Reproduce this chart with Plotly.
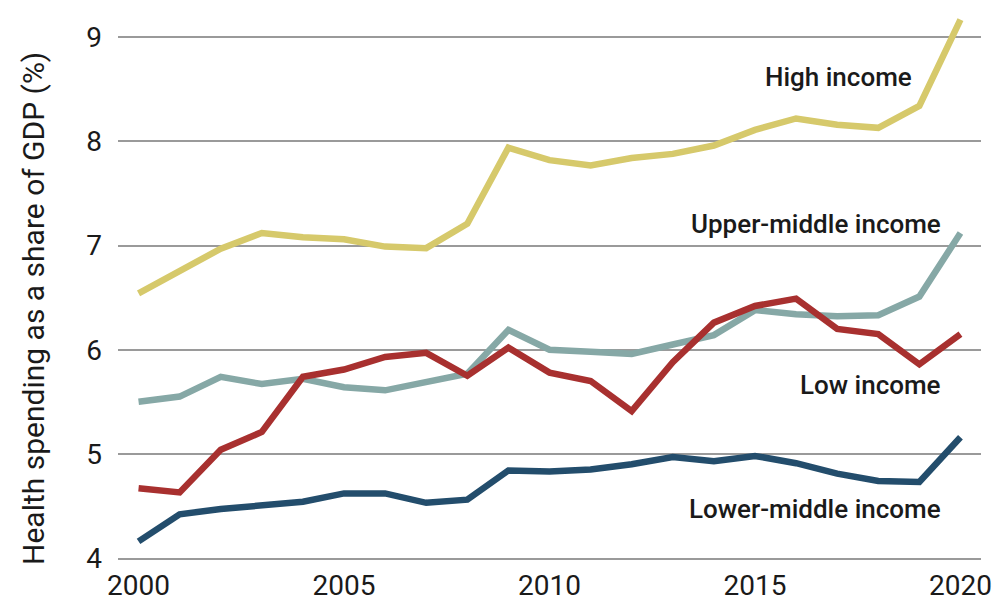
import plotly.graph_objects as go

years = list(range(2000, 2021))

high_income = [6.54, 6.76, 6.97, 7.12, 7.08, 7.06, 6.99, 6.975, 7.21, 7.94, 7.82,
               7.77, 7.84, 7.88, 7.96, 8.11, 8.22, 8.16, 8.13, 8.34, 9.17]
upper_middle = [5.50, 5.55, 5.74, 5.67, 5.72, 5.64, 5.61, 5.69, 5.77, 6.19, 6.00,
                5.98, 5.96, 6.05, 6.14, 6.38, 6.34, 6.32, 6.33, 6.51, 7.12]
low_income = [4.67, 4.63, 5.04, 5.21, 5.74, 5.81, 5.93, 5.97, 5.75, 6.02, 5.78,
              5.70, 5.41, 5.88, 6.26, 6.42, 6.49, 6.20, 6.15, 5.86, 6.15]
lower_middle = [4.16, 4.42, 4.47, 4.50, 4.54, 4.62, 4.62, 4.53, 4.56, 4.84, 4.83,
                4.85, 4.90, 4.97, 4.93, 4.98, 4.91, 4.81, 4.74, 4.73, 5.16]

series = [
    ("High income", high_income, "#d6c96b"),
    ("Upper-middle income", upper_middle, "#86a8a6"),
    ("Low income", low_income, "#a8302f"),
    ("Lower-middle income", lower_middle, "#234d6c"),
]

label_pos = {
    "High income": (914, 77),
    "Upper-middle income": (943, 224),
    "Low income": (943, 385),
    "Lower-middle income": (943, 509),
}

y_ticks = [4, 5, 6, 7, 8, 9]
x_ticks = [2000, 2005, 2010, 2015, 2020]

W, H = 1005, 612
L, R, T, B = 118, 24, 6, 54

fig = go.Figure()
for name, vals, col in series:
    fig.add_trace(go.Scatter(x=years, y=vals, mode="lines", name=name,
                             line=dict(color=col, width=6.5),
                             showlegend=False))

for name, (px, py) in label_pos.items():
    fig.add_annotation(text=name, xref="paper", yref="paper",
                       x=(px - L) / (W - L - R), y=1 - (py - T) / (H - T - B),
                       xanchor="right", yanchor="middle", showarrow=False,
                       font=dict(family="Roboto", size=26, color="#1a1a1a", weight=500))

fig.add_annotation(text="Health spending as a share of GDP (%)", xref="paper", yref="paper",
                   x=(33 - L) / (W - L - R), y=1 - (309 - T) / (H - T - B),
                   xanchor="center", yanchor="middle", textangle=-90, showarrow=False,
                   font=dict(family="Roboto", size=30, color="#1a1a1a"))

fig.update_layout(
    width=W, height=H,
    margin=dict(l=L, r=R, t=T, b=B),
    plot_bgcolor="white", paper_bgcolor="white",
    xaxis=dict(range=[1999.5, 2020.5], tickvals=x_ticks, showgrid=False,
               zeroline=False, showline=True, linecolor="#9a9a9a", linewidth=1.5,
               ticks="", ticklabelstandoff=2,
               tickfont=dict(family="Roboto", size=28, color="#1a1a1a")),
    yaxis=dict(range=[4, 9.3], tickvals=y_ticks, showgrid=True,
               gridcolor="#9a9a9a", gridwidth=1.5, zeroline=False, showline=False,
               ticks="", ticklabelstandoff=15,
               tickfont=dict(family="Roboto", size=28, color="#1a1a1a")),
)

fig.write_html("out.html", config={"displayModeBar": False},
               post_script="document.body.style.margin='0px';")
